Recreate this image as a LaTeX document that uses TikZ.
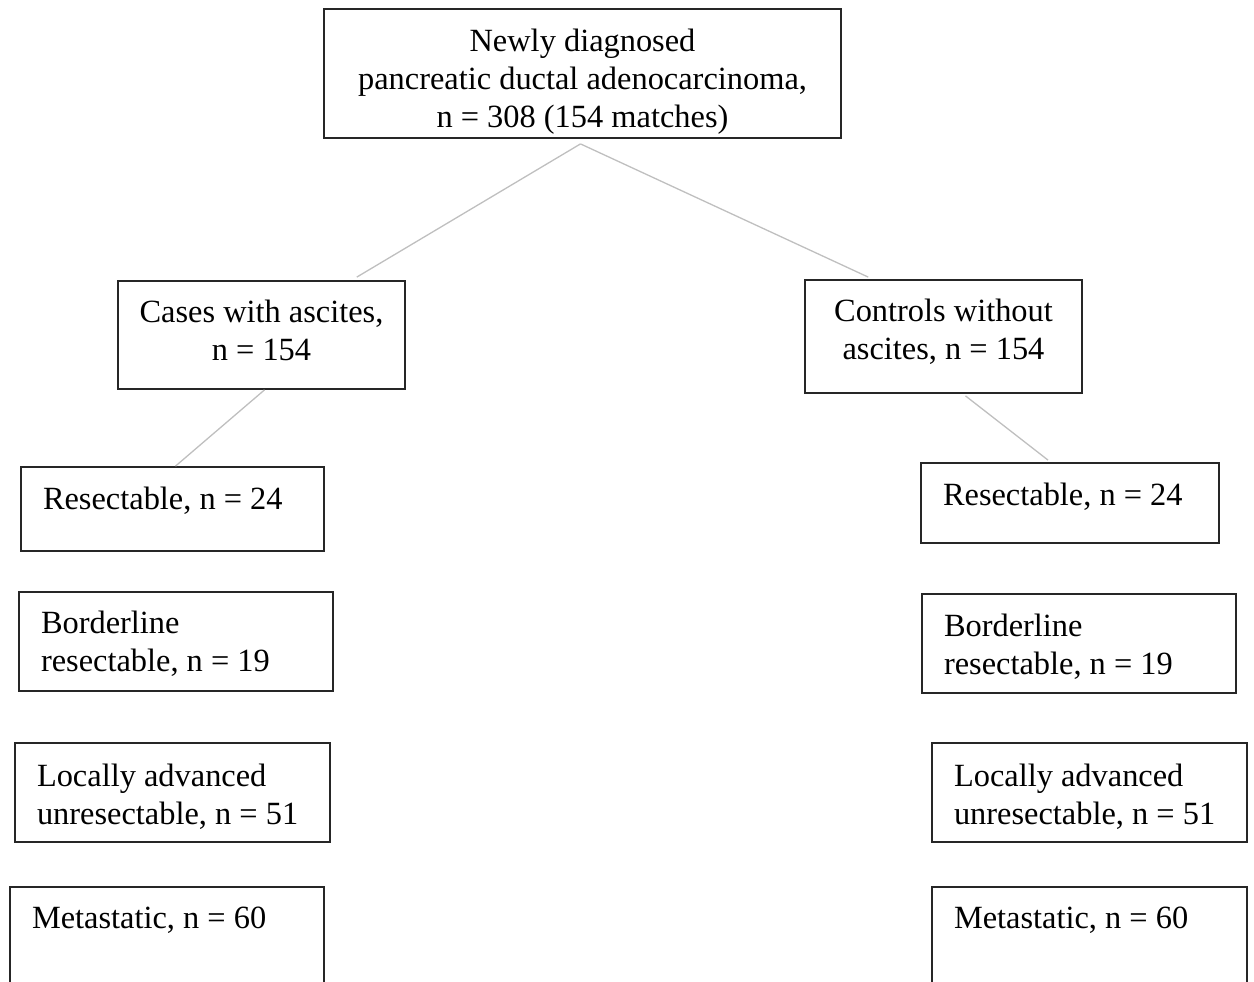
\documentclass[tikz,border=0pt]{standalone}
\usepackage{fontspec}
\setmainfont{Liberation Serif}
\usepackage{tikz}
\usetikzlibrary{calc}

\begin{document}
\begin{tikzpicture}[x=1pt, y=-1pt, every node/.style={draw=black!85, line width=1.8pt, inner sep=0pt, font=\fontsize{32.4pt}{38pt}\selectfont},
                    stage/.style={inner xsep=22pt, align=flush left, text width=#1},
                    link/.style={draw=black!25, line width=1.3pt}]
                    \useasboundingbox (0,0) rectangle (1254,982);
                    \clip (0,0) rectangle (1254,982);
                    % Nodes
                    \node (pdac) at (582.5,73.5) [minimum width=517pt, minimum height=129pt, align=center] {\rule{0pt}{38pt}Newly diagnosed\\pancreatic ductal adenocarcinoma,\\n = 308 (154 matches)};

                    \node (cases) at (261.5,335) [minimum width=287pt, minimum height=108pt, align=center] {Cases with ascites,\\n = 154\rule[-10pt]{0pt}{10pt}};
                    \node (controls) at (943.5,336.5) [minimum width=277pt, minimum height=113pt, align=center] {Controls without\\ascites, n = 154\rule[-15pt]{0pt}{15pt}};

                    \node (resL) at (172.5,509) [stage=259pt, text height=42pt, text depth=42pt] {Resectable, n = 24};
                    \node (bordL) at (176,641.5) [stage=270pt, minimum height=99pt] {\rule{0pt}{27pt}Borderline\\resectable, n = 19};
                    \node (locL) at (172.5,792.5) [stage=271pt, minimum height=99pt] {\rule{0pt}{30pt}Locally advanced\\unresectable, n = 51};
                    \node (metL) at (167,947.5) [stage=270pt, text height=41pt, text depth=80pt] {Metastatic, n = 60};

                    \node (resR) at (1070,503) [stage=254pt, text height=42pt, text depth=38pt] {Resectable, n = 24};
                    \node (bordR) at (1079,643.5) [stage=270pt, minimum height=99pt] {\rule{0pt}{28pt}Borderline\\resectable, n = 19};
                    \node (locR) at (1089.5,792.5) [stage=271pt, minimum height=99pt] {\rule{0pt}{30pt}Locally advanced\\unresectable, n = 51};
                    \node (metR) at (1089.5,947.5) [stage=271pt, text height=41pt, text depth=80pt] {Metastatic, n = 60};

                    % Edges
                    \draw[link] ($(pdac.south) + (-2,5)$) -- ($(cases.north west)!0.83!(cases.north east) + (0,-3)$);
                    \draw[link] ($(pdac.south) + (-2,5)$) -- ($(controls.north west)!0.23!(controls.north east) + (0,-2)$);

                    \draw[link] ($(cases.south) + (3,0)$) -- ($(resL.north) + (3,0)$);
                    \draw[link] ($(controls.south) + (22,2)$) -- ($(resR.north) + (-22,-2)$);
                \end{tikzpicture}
\end{document}
